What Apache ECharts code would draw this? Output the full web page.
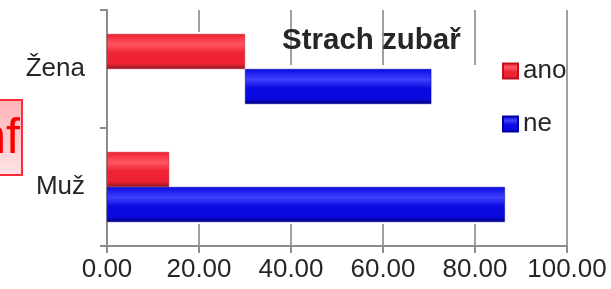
<!DOCTYPE html>
<html>
<head>
<meta charset="utf-8">
<script src="https://cdn.jsdelivr.net/npm/echarts@6/dist/echarts.min.js"></script>
<style>
html,body{margin:0;padding:0;background:#fff;}
#chart{width:611px;height:289px;}
</style>
</head>
<body>
<div id="chart"></div>
<script>
// data
var categories = ['Muž', 'Žena'];
var anoValues = [13.5, 30];
var neStart = [0, 30];        // blue bar for Žena starts at 30 in the picture
var neEnd = [86.5, 70.5];
var xTicks = [0, 20, 40, 60, 80, 100];

var FONT = '"Liberation Sans", Arial, sans-serif';

var neLength = neEnd.map(function(v, i){ return v - neStart[i]; });

function bevel(light, main, dark){
	return new echarts.graphic.LinearGradient(0, 0, 0, 1, [
		{offset: 0, color: main},
		{offset: 0.3, color: light},
		{offset: 0.55, color: main},
		{offset: 0.85, color: main},
		{offset: 1, color: dark}
	]);
}
var red = bevel('#ff5563', '#ee2233', '#8c1a22');
var blue = bevel('#4040ff', '#0a0ae0', '#00007a');

var chart = echarts.init(document.getElementById('chart'));
var option = {
	animation: false,
	title: {
		text: 'Strach zubař',
		left: 277,
		top: 21,
		textStyle: {fontFamily: FONT, fontSize: 29.5, fontWeight: 'bold', color: '#262626'}
	},
	legend: {
		orient: 'vertical',
		left: 502,
		top: 58,
		padding: 0,
		icon: 'rect',
		itemWidth: 15,
		itemHeight: 15,
		itemGap: 27,
		data: ['ano', 'ne'],
		textStyle: {fontFamily: FONT, fontSize: 26, color: '#262626'}
	},
	grid: {left: 107, right: 44, top: 10, bottom: 43, containLabel: false},
	xAxis: {
		type: 'value',
		min: xTicks[0],
		max: xTicks[xTicks.length - 1],
		interval: xTicks[1] - xTicks[0],
		axisLine: {show: true, lineStyle: {color: '#8c8c8c', width: 2}},
		axisTick: {show: true, length: 7, lineStyle: {color: '#8c8c8c', width: 2}},
		splitLine: {show: true, lineStyle: {color: '#a0a0a0', width: 2}},
		axisLabel: {
			fontFamily: FONT, fontSize: 26, color: '#262626', margin: 11,
			formatter: function(v){ return v.toFixed(2); }
		}
	},
	yAxis: {
		type: 'category',
		data: categories,
		axisLine: {show: true, lineStyle: {color: '#8c8c8c', width: 2}},
		axisTick: {show: true, length: 7, lineStyle: {color: '#8c8c8c', width: 2}},
		axisLabel: {fontFamily: FONT, fontSize: 26, color: '#262626', margin: 22}
	},
	graphic: [
		// white areas hiding the gridlines behind the bars, as in the picture
		{type: 'rect', silent: true, z: 1, shape: {x: 108, y: 32, width: 138, height: 192}, style: {fill: '#fff'}},
		{type: 'rect', silent: true, z: 1, shape: {x: 246, y: 65, width: 240, height: 159}, style: {fill: '#fff'}},
		{
			type: 'group', left: -40, top: 99, z: 10,
			children: [
				{type: 'rect', shape: {x: 0, y: 0, width: 61, height: 75},
					style: {
						fill: new echarts.graphic.LinearGradient(0, 0, 0, 1, [
							{offset: 0, color: '#ffb3b8'}, {offset: 1, color: '#ffe3e5'}
						]),
						stroke: '#ff2a3a', lineWidth: 2
					}},
				{type: 'text', style: {text: 'nf', x: 59, y: 39, align: 'right', verticalAlign: 'middle',
					fontFamily: FONT, fontSize: 50, fill: '#ff0000'}}
			]
		}
	],
	series: [
		{
			name: 'ano', type: 'bar', barWidth: 35, barGap: '0%',
			itemStyle: {color: red, borderColor: '#c01020', borderWidth: 0.5},
			data: anoValues
		},
		{
			name: 'neOffset', type: 'bar', stack: 'ne', barWidth: 35, silent: true,
			itemStyle: {color: 'rgba(0,0,0,0)'},
			data: neStart
		},
		{
			name: 'ne', type: 'bar', stack: 'ne', barWidth: 35,
			itemStyle: {color: blue, borderColor: '#0000a0', borderWidth: 0.5},
			data: neLength
		}
	]
};
chart.setOption(option);
</script>
</body>
</html>
